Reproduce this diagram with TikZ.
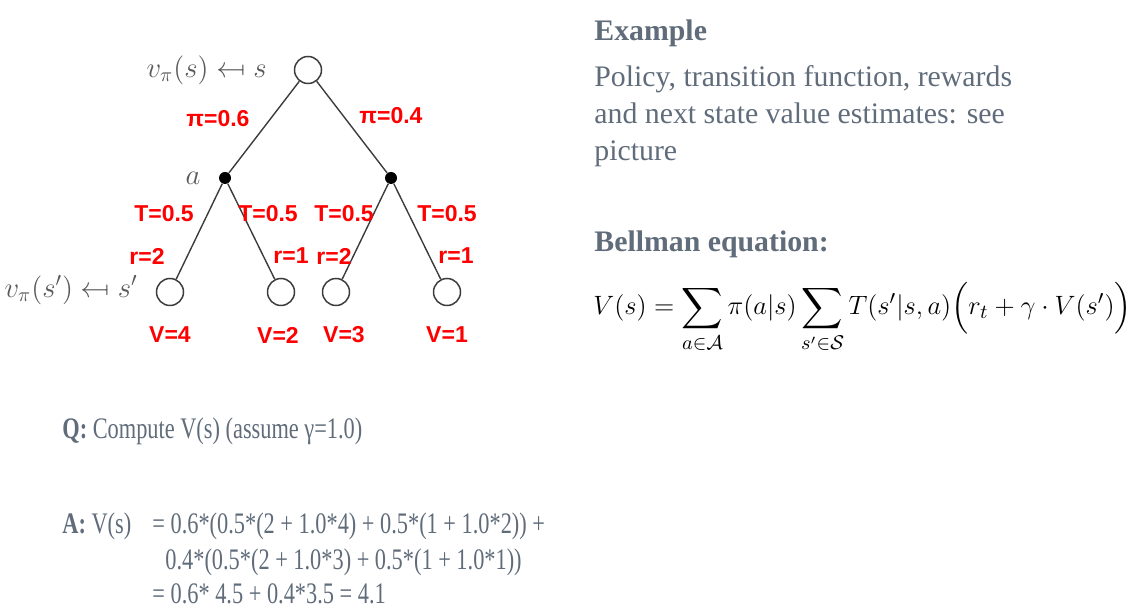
\documentclass[tikz,border=0pt]{standalone}
\usepackage[no-math]{fontspec}
\usepackage{amsmath,amssymb}
\usepackage{graphicx}
\setmainfont{Liberation Serif}
\newfontfamily\labelfont{Liberation Sans}
\newfontfamily\condfont[FakeStretch=0.75]{Liberation Serif}
\usetikzlibrary{calc}
\usetikzlibrary{arrows}
\definecolor{slate}{RGB}{96,108,122}
\definecolor{treegray}{RGB}{60,60,60}
\newcommand{\backmaps}{\mathrel{\reflectbox{$\mapsto$}}}

\begin{document}
\begin{tikzpicture} [x=0.5pt,y=-0.5pt,
  state/.style={circle,draw=treegray,line width=0.75pt,fill=white,minimum size=13.5pt,inner sep=0pt},
  act/.style={circle,fill=black,minimum size=6pt,inner sep=0pt},
  edge/.style={treegray,line width=0.7pt},
  rlab/.style={red,font=\fontsize{11.5}{13}\selectfont\labelfont\bfseries,inner sep=0pt},
  tlab/.style={treegray!85,font=\fontsize{14.5}{16}\selectfont,inner sep=0pt},
  txt/.style={slate,anchor=base west,inner sep=0pt,font=\fontsize{14.9}{18}\selectfont},
  qa/.style={slate,anchor=base west,inner sep=0pt,font=\fontsize{14.9}{17}\selectfont\condfont}]
\useasboundingbox (0,0) rectangle (1133,613);
% tree
\node[state] (s) at (308,70) {};
\node[act] (a1) at (225,178) {};
\node[act] (a2) at (391,178) {};
\foreach \n/\x in {l1/170,l2/281,l3/336,l4/447} {
 \node[state] (\n) at (\x,292) {};
}
\draw[edge] (s) -- (a1);
\draw[edge] (s) -- (a2);
\draw[edge] (a1) -- (l1);
\draw[edge] (a1) -- (l2);
\draw[edge] (a2) -- (l3);
\draw[edge] (a2) -- (l4);
\node[tlab,anchor=east] (vs) at (267,70) {$v_\pi(s) \backmaps s$};
\node[tlab] (alab) at (193,178) {$a$};
\node[tlab,anchor=east] (vsp) at (138,290) {$v_\pi(s') \backmaps s'$};
% numbers on the tree
\node[rlab] (p1) at (218,119) {π=0.6};
\node[rlab] (p2) at (391,116) {π=0.4};
\foreach \n/\x in {t1/164,t2/268,t3/344,t4/447} {
 \node[rlab] (\n) at (\x,214) {T=0.5};
}
\foreach \n/\x/\r in {r1/147/2,r2/291/1,r3/334/2,r4/456/1} {
 \node[rlab] (\n) at (\x,256) {r=\r};
}
\foreach \n/\x/\v in {v1/170/4,v2/278/2,v3/344/3,v4/447/1} {
 \node[rlab] (\n) at (\x,335) {V=\v};
}
% text on the right
\node[txt] (ex) at (594,41) {\bfseries Example};
\node[txt] (ex1) at (594,87) {Policy, transition function, rewards};
\node[txt] (ex2) at (594,124) {and next state value estimates: see};
\node[txt] (ex3) at (594,161) {picture};
\node[txt] (bell) at (594,252) {\bfseries Bellman equation:};
\node[anchor=base west,inner sep=0pt,font=\fontsize{13}{15}\selectfont,scale=1.105,transform shape] (eq) at (593,315)
 {$\displaystyle V(s) = \sum_{a\in\mathcal{A}} \pi(a|s) \sum_{s'\in\mathcal{S}} T(s'|s,a)\Big(r_t + \gamma\cdot V(s')\Big)$};
% question and answer
\node[qa] (q) at (62,439) {\textbf{Q:} Compute V(s) (assume γ=1.0)};
\node[qa] (a) at (62,533) {\textbf{A:} V(s)};
\node[qa] (ans1) at (152,533) {= 0.6*(0.5*(2 + 1.0*4) + 0.5*(1 + 1.0*2)) +};
\node[qa] (ans2) at (165,569) {0.4*(0.5*(2 + 1.0*3) + 0.5*(1 + 1.0*1))};
\node[qa] (ans3) at (152,603) {= 0.6* 4.5 + 0.4*3.5 = 4.1};
\end{tikzpicture}
\end{document}
